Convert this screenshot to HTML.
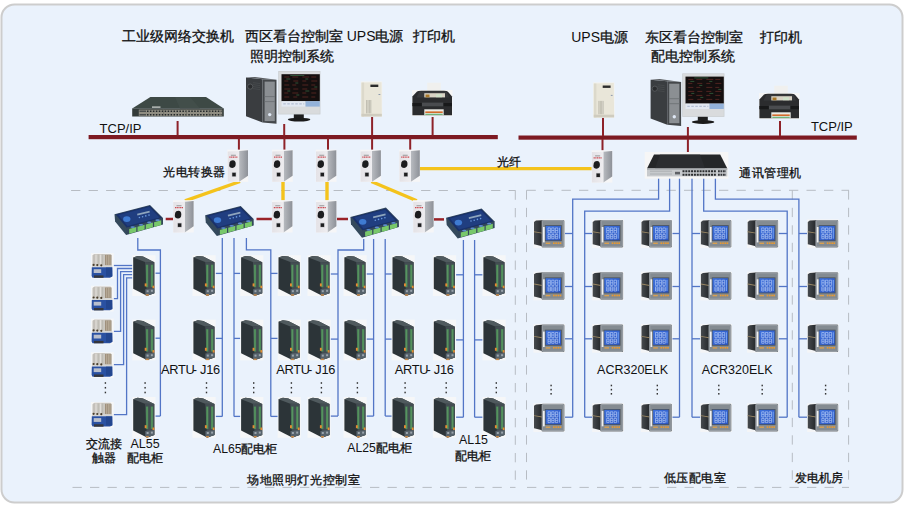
<!DOCTYPE html>
<html><head><meta charset="utf-8"><style>
html,body{margin:0;padding:0;background:#fff;}
body{width:905px;height:509px;position:relative;overflow:hidden;}
svg{position:absolute;left:0;top:0;}
.t{position:absolute;white-space:nowrap;font-family:"Liberation Sans",sans-serif;color:#111;line-height:1;}
.c{-webkit-text-stroke:0.3px #111;}
</style></head><body>
<svg width="905" height="509" viewBox="0 0 905 509">
<defs>
 <linearGradient id="gConvSide" x1="0" x2="1" y1="0" y2="0">
   <stop offset="0" stop-color="#b8bbc0"/><stop offset="0.5" stop-color="#a3a6ac"/><stop offset="1" stop-color="#8d9198"/>
 </linearGradient>
 <linearGradient id="gConvFront" x1="0" x2="1" y1="0" y2="0">
   <stop offset="0" stop-color="#e4e2e6"/><stop offset="1" stop-color="#eeedf0"/>
 </linearGradient>
 <linearGradient id="gScreen" x1="0" x2="1" y1="0" y2="1">
   <stop offset="0" stop-color="#3e72de"/><stop offset="1" stop-color="#2a52bd"/>
 </linearGradient>
 <linearGradient id="gHouse" x1="0" x2="1" y1="0" y2="0">
   <stop offset="0" stop-color="#464a4e"/><stop offset="1" stop-color="#25282b"/>
 </linearGradient>
 <g id="din">
   <rect x="0" y="0" width="23.2" height="40.8" fill="#f6f7f8"/>
   <polygon points="0.9,2.2 5.3,0.7 10.7,1.4 22,7.1 22,38 14.6,40.5 0.9,33.6" fill="#2c3438"/>
   <polygon points="0.9,2.2 5.3,0.7 10.7,1.4 22,7.1 12.7,6.8" fill="#505a5e"/>
   <polygon points="12.7,6.8 22,7.1 22,38 14.6,40.5" fill="#434d52"/>
   <rect x="13.6" y="9.5" width="2.3" height="22.5" fill="#4a8656"/><rect x="14.4" y="10" width="0.7" height="21.5" fill="#5f9a66"/>
   <rect x="18.5" y="9.5" width="2.3" height="22.5" fill="#4a8656"/><rect x="19.3" y="10" width="0.7" height="21.5" fill="#5f9a66"/>
   <rect x="12.4" y="28.2" width="1.9" height="3" fill="#e38c33"/>
   <rect x="20.2" y="30.5" width="1.8" height="2.6" fill="#e38c33"/>
   <polygon points="12.9,34 22,33.2 22,38 14.6,40.5 12.9,39.8" fill="#56626b"/>
   <rect x="14.3" y="35" width="2" height="2" fill="#9aa4ac"/><rect x="18.6" y="34.6" width="2" height="2" fill="#9aa4ac"/>
   <rect x="13.5" y="39" width="3" height="1.5" fill="#c98a4a"/>
 </g>
 <g id="meter">
   <rect x="0" y="0" width="31.6" height="28.8" fill="#f4f5f7"/>
   <polygon points="0.6,2.6 2.6,1.3 8.8,0.9 8.8,27 0.6,25" fill="url(#gHouse)"/>
   <polygon points="0.6,12 8.8,13.4 8.8,14.3 0.6,12.9" fill="#9a8764"/>
   <rect x="8.2" y="0.6" width="22.8" height="27.6" rx="1.2" fill="#6f767c"/>
   <rect x="8.9" y="1.3" width="21.4" height="26.2" rx="0.8" fill="#848b91" stroke="#b0b6bb" stroke-width="0.6"/>
   <rect x="11.4" y="5.8" width="17" height="16" fill="#4d545a"/>
   <rect x="12.2" y="6.6" width="15.4" height="14.4" fill="url(#gScreen)"/>
   <path d="M14.6 8.6h2.4v2.6h-2.4zM14.6 11.2v2.6h2.4v-2.6M18.3 8.6h2.4v2.6h-2.4zM18.3 11.2v2.6h2.4v-2.6M22 8.6h2.4v2.6h-2.4zM22 11.2v2.6h2.4v-2.6M14.6 15.2h2.4v2.2h-2.4zM14.6 17.4v2h2.4v-2M18.3 15.2h2.4v2.2h-2.4zM18.3 17.4v2h2.4v-2M22 15.2h2.4v2.2h-2.4zM22 17.4v2h2.4v-2" stroke="#cfe0ff" stroke-width="0.55" fill="none"/>
   <rect x="25.6" y="8.4" width="0.9" height="11" fill="#7fb0ff"/>
   <rect x="9.6" y="7.7" width="1.7" height="15.4" fill="#f0f0f0"/>
   <rect x="12.3" y="23.3" width="4.6" height="1.4" fill="#d9a050"/>
   <rect x="19.6" y="23.1" width="1.6" height="1.6" fill="#eb9a2e"/>
   <rect x="21.9" y="23.1" width="1.6" height="1.6" fill="#eb9a2e"/>
   <rect x="24.2" y="23.1" width="1.6" height="1.6" fill="#eb9a2e"/>
   <rect x="26.3" y="23.1" width="1.6" height="1.6" fill="#eb9a2e"/>
 </g>
 <g id="conv">
   <rect x="0" y="0" width="20.8" height="32.3" fill="#f6f6f7"/>
   <polygon points="11.7,1.5 20.6,0.7 20.6,26.1 11.7,32.2" fill="url(#gConvSide)"/>
   <polygon points="0.3,1.8 11.7,1.5 11.7,32.2 0.3,32.2" fill="url(#gConvFront)"/>
   <rect x="3.5" y="5.2" width="5" height="0.8" fill="#6a6a6a" opacity="0.8"/>
   <path d="M2 7.5h8" stroke="#cc4a52" stroke-width="1.3" stroke-dasharray="1.2 0.5"/>
   <path d="M2.2,12.6 Q2.8,10.8 5.4,10.6 Q8.4,10.8 8.3,14.5 Q8.2,18.2 5,18.4 Q1.9,18.3 1.8,15.6 Z" fill="#1c1c1e"/>
   <rect x="4.4" y="22.6" width="4.4" height="4.6" fill="#b9b9bd"/><rect x="4.9" y="23.2" width="3.4" height="3.5" fill="#1e1e20"/>
 </g>
 <g id="rtu">
   <polygon points="0.6,9.7 36.1,0.4 49.1,13.6 49.1,19.9 12.2,30.5 1.2,17" fill="#34495c"/>
   <polygon points="1.8,10 36,1.3 48,13.4 12.8,23.2" fill="#1a3169"/>
   <polygon points="4.5,10.4 35.4,2.6 45.5,13 13.6,21.6" fill="#203e80"/>
   <polygon points="12.8,23.2 48.2,13.6 48.6,19.6 12.5,29.8" fill="#33475a"/>
   <ellipse cx="12.9" cy="14.6" rx="3.7" ry="2.9" fill="#3f7bd2"/>
   <polygon points="23.2,9.3 35.6,6.2 35.9,8 23.5,11.1" fill="#8ea5bd"/>
   <circle cx="25.5" cy="13" r="0.8" fill="#6a9ae0"/><circle cx="28.7" cy="12.2" r="0.8" fill="#6a9ae0"/><circle cx="31.9" cy="11.4" r="0.8" fill="#6a9ae0"/><circle cx="35.1" cy="10.6" r="0.8" fill="#6a9ae0"/>
   <polygon points="15.3,24.6 22.4,22.6 22.4,27.3 15.3,29.3" fill="#78c86a"/>
   <polygon points="23.6,22.3 30.7,20.3 30.7,25 23.6,27" fill="#78c86a"/>
   <polygon points="31.9,20 39,18 39,22.7 31.9,24.7" fill="#78c86a"/>
   <polygon points="40.2,17.7 47.3,15.7 47.3,20.4 40.2,22.4" fill="#78c86a"/>
   <ellipse cx="18.8" cy="22.6" rx="2.2" ry="0.9" fill="#5b8bd0"/><ellipse cx="27.1" cy="20.3" rx="2.2" ry="0.9" fill="#5b8bd0"/><ellipse cx="35.4" cy="18" rx="2.2" ry="0.9" fill="#5b8bd0"/><ellipse cx="43.7" cy="15.7" rx="2.2" ry="0.9" fill="#5b8bd0"/>
 </g>
 <g id="cont">
   <rect x="0" y="0" width="22.7" height="25.8" fill="#f6f7f8"/>
   <polygon points="1.4,2.2 3.5,0.8 19.5,0.8 20.8,2.2 20.8,12.8 1.4,12.8" fill="#cbc8c2"/>
   <rect x="14" y="1.8" width="6.3" height="10.5" fill="#9f907c"/>
   <path d="M15.6 2v10M17.4 2v10M19 2v10" stroke="#c8bcaa" stroke-width="0.6"/>
   <path d="M5 1.5v10M9.5 1.5v10" stroke="#e2dfda" stroke-width="1"/>
   <path d="M3 1.5v10M7.3 1.5v10M11.6 1.5v10" stroke="#aeaaa2" stroke-width="0.5"/>
   <rect x="0.9" y="12.3" width="20.4" height="1.9" fill="#d6d6d4"/>
   <circle cx="2.6" cy="11.8" r="1.1" fill="#4a3e2c"/>
   <circle cx="6.3" cy="12" r="1.1" fill="#4a3e2c"/>
   <circle cx="10.3" cy="12.2" r="1.1" fill="#4a3e2c"/>
   <polygon points="0.8,14.2 21.4,14.2 21.6,23.2 19,24.6 1.5,24.6 0.6,22.8" fill="#2a51a2"/>
   <rect x="15" y="14.5" width="6" height="9" fill="#23468f"/>
   <rect x="2.7" y="16.1" width="7.5" height="3.8" fill="#b9bfcc"/>
   <rect x="3" y="22.3" width="9.5" height="2.4" fill="#34363c"/>
 </g>
</defs>
<rect x="1.5" y="4.5" width="901" height="498" rx="13" ry="13" fill="#eaf2fc" stroke="#cdcdcd" stroke-width="2"/><line x1="71.1" y1="190.5" x2="515.5" y2="190.5" stroke="#b7bcc3" stroke-width="1" stroke-dasharray="9.3 8.2"/><line x1="515.3" y1="190.5" x2="515.3" y2="481" stroke="#b7bcc3" stroke-width="1" stroke-dasharray="9.3 8.2"/><line x1="72.5" y1="487.4" x2="515.5" y2="487.4" stroke="#b7bcc3" stroke-width="1" stroke-dasharray="9.3 8.2"/><line x1="526.5" y1="190.3" x2="849" y2="190.3" stroke="#b7bcc3" stroke-width="1" stroke-dasharray="9.3 8.2"/><line x1="526.5" y1="190.3" x2="526.5" y2="481" stroke="#b7bcc3" stroke-width="1" stroke-dasharray="9.3 8.2"/><line x1="792.3" y1="190.3" x2="792.3" y2="481" stroke="#b7bcc3" stroke-width="1" stroke-dasharray="9.3 8.2"/><line x1="848.6" y1="190.3" x2="848.6" y2="481" stroke="#b7bcc3" stroke-width="1" stroke-dasharray="9.3 8.2"/><line x1="527" y1="487.4" x2="849" y2="487.4" stroke="#b7bcc3" stroke-width="1" stroke-dasharray="9.3 8.2"/><rect x="88.6" y="135" width="409.2" height="4.2" fill="#7d1a22"/><rect x="518.5" y="135.5" width="338.3" height="4.2" fill="#7d1a22"/><line x1="177.6" y1="121" x2="177.6" y2="135.5" stroke="#8e2229" stroke-width="2"/><line x1="284.2" y1="124" x2="284.2" y2="135.5" stroke="#8e2229" stroke-width="2"/><line x1="372.1" y1="117" x2="372.1" y2="135.5" stroke="#8e2229" stroke-width="2"/><line x1="432.6" y1="117" x2="432.6" y2="135.5" stroke="#8e2229" stroke-width="2"/><line x1="603" y1="117.7" x2="603" y2="136" stroke="#8e2229" stroke-width="2"/><line x1="687.9" y1="127" x2="687.9" y2="136" stroke="#8e2229" stroke-width="2"/><line x1="780" y1="121" x2="780" y2="136" stroke="#8e2229" stroke-width="2"/><line x1="238.9" y1="138.5" x2="238.9" y2="150" stroke="#8e2229" stroke-width="2"/><line x1="284.4" y1="138.5" x2="284.4" y2="150" stroke="#8e2229" stroke-width="2"/><line x1="328.0" y1="138.5" x2="328.0" y2="150" stroke="#8e2229" stroke-width="2"/><line x1="372.1" y1="138.5" x2="372.1" y2="150" stroke="#8e2229" stroke-width="2"/><line x1="410.2" y1="138.5" x2="410.2" y2="150" stroke="#8e2229" stroke-width="2"/><line x1="602.5" y1="139" x2="602.5" y2="150.5" stroke="#8e2229" stroke-width="2"/><line x1="687.9" y1="139" x2="687.9" y2="153.5" stroke="#8e2229" stroke-width="2"/><polyline points="240,181.5 185,200.8" fill="none" stroke="#f4c31c" stroke-width="3.4" stroke-linecap="butt"/><polyline points="283,182 283,200.5" fill="none" stroke="#f4c31c" stroke-width="3.4" stroke-linecap="butt"/><polyline points="327,182 327,200.5" fill="none" stroke="#f4c31c" stroke-width="3.4" stroke-linecap="butt"/><polyline points="371.4,181.5 416.8,200.8" fill="none" stroke="#f4c31c" stroke-width="3.4" stroke-linecap="butt"/><polyline points="419,168.6 592,168.6" fill="none" stroke="#f4c31c" stroke-width="3.4" stroke-linecap="butt"/><line x1="165.7" y1="219" x2="173.7" y2="219" stroke="#9a2328" stroke-width="2.5"/><line x1="256.5" y1="219" x2="272.5" y2="219" stroke="#9a2328" stroke-width="2.5"/><line x1="337" y1="219" x2="348" y2="219" stroke="#9a2328" stroke-width="2.5"/><line x1="434" y1="219.4" x2="444" y2="219.4" stroke="#9a2328" stroke-width="2.5"/><polyline points="137.8,238 137.8,250 160.4,250 160.4,416.1" fill="none" stroke="#5275c6" stroke-width="1.3"/><polyline points="154.5,273.2 160.4,273.2" fill="none" stroke="#5275c6" stroke-width="1.3"/><polyline points="154.5,338.2 160.4,338.2" fill="none" stroke="#5275c6" stroke-width="1.3"/><polyline points="154.5,416.1 160.4,416.1" fill="none" stroke="#5275c6" stroke-width="1.3"/><polyline points="222.3,238 222.3,416.4" fill="none" stroke="#5275c6" stroke-width="1.3"/><polyline points="234,238 234,416.4" fill="none" stroke="#5275c6" stroke-width="1.3"/><polyline points="246.4,238 246.4,249.8 270.8,249.8 270.8,416.4" fill="none" stroke="#5275c6" stroke-width="1.3"/><polyline points="215.4,273.4 222.3,273.4" fill="none" stroke="#5275c6" stroke-width="1.3"/><polyline points="234,273.4 240.5,273.4" fill="none" stroke="#5275c6" stroke-width="1.3"/><polyline points="270.8,273.4 277.9,273.4" fill="none" stroke="#5275c6" stroke-width="1.3"/><polyline points="215.4,338.4 222.3,338.4" fill="none" stroke="#5275c6" stroke-width="1.3"/><polyline points="234,338.4 240.5,338.4" fill="none" stroke="#5275c6" stroke-width="1.3"/><polyline points="270.8,338.4 277.9,338.4" fill="none" stroke="#5275c6" stroke-width="1.3"/><polyline points="215.4,416.4 222.3,416.4" fill="none" stroke="#5275c6" stroke-width="1.3"/><polyline points="234,416.4 240.5,416.4" fill="none" stroke="#5275c6" stroke-width="1.3"/><polyline points="270.8,416.4 277.9,416.4" fill="none" stroke="#5275c6" stroke-width="1.3"/><polyline points="363.7,239 363.7,250 338.0,250 338.0,416.1" fill="none" stroke="#5275c6" stroke-width="1.3"/><polyline points="373.6,239 373.6,416.1" fill="none" stroke="#5275c6" stroke-width="1.3"/><polyline points="385.2,239 385.2,416.1" fill="none" stroke="#5275c6" stroke-width="1.3"/><polyline points="330.4,274.0 338.0,274.0" fill="none" stroke="#5275c6" stroke-width="1.3"/><polyline points="366,274.0 373.6,274.0" fill="none" stroke="#5275c6" stroke-width="1.3"/><polyline points="385.2,274.0 391.9,274.0" fill="none" stroke="#5275c6" stroke-width="1.3"/><polyline points="330.4,339.1 338.0,339.1" fill="none" stroke="#5275c6" stroke-width="1.3"/><polyline points="366,339.1 373.6,339.1" fill="none" stroke="#5275c6" stroke-width="1.3"/><polyline points="385.2,339.1 391.9,339.1" fill="none" stroke="#5275c6" stroke-width="1.3"/><polyline points="330.4,416.1 338.0,416.1" fill="none" stroke="#5275c6" stroke-width="1.3"/><polyline points="366,416.1 373.6,416.1" fill="none" stroke="#5275c6" stroke-width="1.3"/><polyline points="385.2,416.1 391.9,416.1" fill="none" stroke="#5275c6" stroke-width="1.3"/><polyline points="463.4,240 463.4,417.2" fill="none" stroke="#5275c6" stroke-width="1.3"/><polyline points="474.6,240 474.6,417.2" fill="none" stroke="#5275c6" stroke-width="1.3"/><polyline points="455.6,274.8 463.4,274.8" fill="none" stroke="#5275c6" stroke-width="1.3"/><polyline points="474.6,274.8 482.8,274.8" fill="none" stroke="#5275c6" stroke-width="1.3"/><polyline points="455.6,339.9 463.4,339.9" fill="none" stroke="#5275c6" stroke-width="1.3"/><polyline points="474.6,339.9 482.8,339.9" fill="none" stroke="#5275c6" stroke-width="1.3"/><polyline points="455.6,417.2 463.4,417.2" fill="none" stroke="#5275c6" stroke-width="1.3"/><polyline points="474.6,417.2 482.8,417.2" fill="none" stroke="#5275c6" stroke-width="1.3"/><polyline points="113.5,265.5 132.5,265.5" fill="none" stroke="#5275c6" stroke-width="1.3"/><polyline points="113.5,298.6 117.5,298.6 117.5,268.5 132.5,268.5" fill="none" stroke="#5275c6" stroke-width="1.3"/><polyline points="113.5,331.4 120.6,331.4 120.6,271.6 132.5,271.6" fill="none" stroke="#5275c6" stroke-width="1.3"/><polyline points="113.5,364.6 123.6,364.6 123.6,274.7 132.5,274.7" fill="none" stroke="#5275c6" stroke-width="1.3"/><polyline points="113.5,414.7 126.6,414.7 126.6,277.8 132.5,277.8" fill="none" stroke="#5275c6" stroke-width="1.3"/><polyline points="658.6,178 658.6,199.1 572.7,199.1 572.7,417.2" fill="none" stroke="#5275c6" stroke-width="1.3"/><polyline points="669.6,178 669.6,211.1 584.7,211.1 584.7,417.2" fill="none" stroke="#5275c6" stroke-width="1.3"/><polyline points="679.5,178 679.5,417.2" fill="none" stroke="#5275c6" stroke-width="1.3"/><polyline points="692,178 692,417.2" fill="none" stroke="#5275c6" stroke-width="1.3"/><polyline points="703.7,178 703.7,211.1 787.2,211.1 787.2,417.2" fill="none" stroke="#5275c6" stroke-width="1.3"/><polyline points="715.4,178 715.4,199.1 798.9,199.1 798.9,417.2" fill="none" stroke="#5275c6" stroke-width="1.3"/><polyline points="564.5,233.5 572.7,233.5" fill="none" stroke="#5275c6" stroke-width="1.3"/><polyline points="584.7,233.5 592.5,233.5" fill="none" stroke="#5275c6" stroke-width="1.3"/><polyline points="672,233.5 679.5,233.5" fill="none" stroke="#5275c6" stroke-width="1.3"/><polyline points="692,233.5 700.4,233.5" fill="none" stroke="#5275c6" stroke-width="1.3"/><polyline points="778.3,233.5 787.2,233.5" fill="none" stroke="#5275c6" stroke-width="1.3"/><polyline points="798.9,233.5 807,233.5" fill="none" stroke="#5275c6" stroke-width="1.3"/><polyline points="564.5,286.5 572.7,286.5" fill="none" stroke="#5275c6" stroke-width="1.3"/><polyline points="584.7,286.5 592.5,286.5" fill="none" stroke="#5275c6" stroke-width="1.3"/><polyline points="672,286.5 679.5,286.5" fill="none" stroke="#5275c6" stroke-width="1.3"/><polyline points="692,286.5 700.4,286.5" fill="none" stroke="#5275c6" stroke-width="1.3"/><polyline points="778.3,286.5 787.2,286.5" fill="none" stroke="#5275c6" stroke-width="1.3"/><polyline points="798.9,286.5 807,286.5" fill="none" stroke="#5275c6" stroke-width="1.3"/><polyline points="564.5,338.8 572.7,338.8" fill="none" stroke="#5275c6" stroke-width="1.3"/><polyline points="584.7,338.8 592.5,338.8" fill="none" stroke="#5275c6" stroke-width="1.3"/><polyline points="672,338.8 679.5,338.8" fill="none" stroke="#5275c6" stroke-width="1.3"/><polyline points="692,338.8 700.4,338.8" fill="none" stroke="#5275c6" stroke-width="1.3"/><polyline points="778.3,338.8 787.2,338.8" fill="none" stroke="#5275c6" stroke-width="1.3"/><polyline points="798.9,338.8 807,338.8" fill="none" stroke="#5275c6" stroke-width="1.3"/><polyline points="564.5,417.2 572.7,417.2" fill="none" stroke="#5275c6" stroke-width="1.3"/><polyline points="584.7,417.2 592.5,417.2" fill="none" stroke="#5275c6" stroke-width="1.3"/><polyline points="672,417.2 679.5,417.2" fill="none" stroke="#5275c6" stroke-width="1.3"/><polyline points="692,417.2 700.4,417.2" fill="none" stroke="#5275c6" stroke-width="1.3"/><polyline points="778.3,417.2 787.2,417.2" fill="none" stroke="#5275c6" stroke-width="1.3"/><polyline points="798.9,417.2 807,417.2" fill="none" stroke="#5275c6" stroke-width="1.3"/><use href="#din" transform="translate(132.3,255.2) scale(1,1)"/><use href="#din" transform="translate(132.3,319.6) scale(1,1)"/><use href="#din" transform="translate(132.3,397.0) scale(1,1)"/><use href="#din" transform="translate(192.5,255.2) scale(1,1)"/><use href="#din" transform="translate(192.5,319.6) scale(1,1)"/><use href="#din" transform="translate(192.5,397.0) scale(1,1)"/><use href="#din" transform="translate(240.2,255.2) scale(1,1)"/><use href="#din" transform="translate(240.2,319.6) scale(1,1)"/><use href="#din" transform="translate(240.2,397.0) scale(1,1)"/><use href="#din" transform="translate(277.6,255.2) scale(1,1)"/><use href="#din" transform="translate(277.6,319.6) scale(1,1)"/><use href="#din" transform="translate(277.6,397.0) scale(1,1)"/><use href="#din" transform="translate(307.5,255.2) scale(1,1)"/><use href="#din" transform="translate(307.5,319.6) scale(1,1)"/><use href="#din" transform="translate(307.5,397.0) scale(1,1)"/><use href="#din" transform="translate(343.5,255.2) scale(1,1)"/><use href="#din" transform="translate(343.5,319.6) scale(1,1)"/><use href="#din" transform="translate(343.5,397.0) scale(1,1)"/><use href="#din" transform="translate(391.6,255.2) scale(1,1)"/><use href="#din" transform="translate(391.6,319.6) scale(1,1)"/><use href="#din" transform="translate(391.6,397.0) scale(1,1)"/><use href="#din" transform="translate(432.9,255.2) scale(1,1)"/><use href="#din" transform="translate(432.9,319.6) scale(1,1)"/><use href="#din" transform="translate(432.9,397.0) scale(1,1)"/><use href="#din" transform="translate(482.5,255.2) scale(1,1)"/><use href="#din" transform="translate(482.5,319.6) scale(1,1)"/><use href="#din" transform="translate(482.5,397.0) scale(1,1)"/><use href="#meter" transform="translate(533.4,219.3) scale(1,1)"/><use href="#meter" transform="translate(533.4,271.6) scale(1,1)"/><use href="#meter" transform="translate(533.4,323.9) scale(1,1)"/><use href="#meter" transform="translate(533.4,403.2) scale(1,1)"/><use href="#meter" transform="translate(592.1,219.3) scale(1,1)"/><use href="#meter" transform="translate(592.1,271.6) scale(1,1)"/><use href="#meter" transform="translate(592.1,323.9) scale(1,1)"/><use href="#meter" transform="translate(592.1,403.2) scale(1,1)"/><use href="#meter" transform="translate(640.9,219.3) scale(1,1)"/><use href="#meter" transform="translate(640.9,271.6) scale(1,1)"/><use href="#meter" transform="translate(640.9,323.9) scale(1,1)"/><use href="#meter" transform="translate(640.9,403.2) scale(1,1)"/><use href="#meter" transform="translate(700.3,219.3) scale(1,1)"/><use href="#meter" transform="translate(700.3,271.6) scale(1,1)"/><use href="#meter" transform="translate(700.3,323.9) scale(1,1)"/><use href="#meter" transform="translate(700.3,403.2) scale(1,1)"/><use href="#meter" transform="translate(747.1,219.3) scale(1,1)"/><use href="#meter" transform="translate(747.1,271.6) scale(1,1)"/><use href="#meter" transform="translate(747.1,323.9) scale(1,1)"/><use href="#meter" transform="translate(747.1,403.2) scale(1,1)"/><use href="#meter" transform="translate(807.2,219.3) scale(1,1)"/><use href="#meter" transform="translate(807.2,271.6) scale(1,1)"/><use href="#meter" transform="translate(807.2,323.9) scale(1,1)"/><use href="#meter" transform="translate(807.2,403.2) scale(1,1)"/><use href="#conv" transform="translate(227.4,149.6) scale(1,1)"/><use href="#conv" transform="translate(272.0,149.6) scale(1,1)"/><use href="#conv" transform="translate(315.7,149.6) scale(1,1)"/><use href="#conv" transform="translate(360.3,149.6) scale(1,1)"/><use href="#conv" transform="translate(399.2,149.6) scale(1,1)"/><use href="#conv" transform="translate(591.6,150.3) scale(1,1)"/><use href="#conv" transform="translate(173,200.2) scale(1,1)"/><use href="#conv" transform="translate(271.8,200.2) scale(1,1)"/><use href="#conv" transform="translate(315.8,200.2) scale(1,1)"/><use href="#conv" transform="translate(413.0,200.2) scale(1,1)"/><use href="#rtu" transform="translate(113.9,204.5) scale(1,1)"/><use href="#rtu" transform="translate(204.6,205.5) scale(1,1)"/><use href="#rtu" transform="translate(349.8,207.2) scale(1,1)"/><use href="#rtu" transform="translate(445.5,208.0) scale(1,1)"/><use href="#cont" transform="translate(91.0,253.1) scale(1,1)"/><use href="#cont" transform="translate(91.0,285.7) scale(1,1)"/><use href="#cont" transform="translate(91.0,318.6) scale(1,1)"/><use href="#cont" transform="translate(91.0,352.2) scale(1,1)"/><use href="#cont" transform="translate(91.0,402.0) scale(1,1)"/><rect x="104.7" y="382.2" width="1.4" height="1.6" fill="#333"/><rect x="104.7" y="386.95" width="1.4" height="1.6" fill="#333"/><rect x="104.7" y="391.7" width="1.4" height="1.6" fill="#333"/><rect x="144.4" y="382.2" width="1.4" height="1.6" fill="#333"/><rect x="144.4" y="386.95" width="1.4" height="1.6" fill="#333"/><rect x="144.4" y="391.7" width="1.4" height="1.6" fill="#333"/><rect x="205.8" y="382.2" width="1.4" height="1.6" fill="#333"/><rect x="205.8" y="386.95" width="1.4" height="1.6" fill="#333"/><rect x="205.8" y="391.7" width="1.4" height="1.6" fill="#333"/><rect x="253.0" y="382.2" width="1.4" height="1.6" fill="#333"/><rect x="253.0" y="386.95" width="1.4" height="1.6" fill="#333"/><rect x="253.0" y="391.7" width="1.4" height="1.6" fill="#333"/><rect x="290.7" y="382.2" width="1.4" height="1.6" fill="#333"/><rect x="290.7" y="386.95" width="1.4" height="1.6" fill="#333"/><rect x="290.7" y="391.7" width="1.4" height="1.6" fill="#333"/><rect x="320.7" y="382.2" width="1.4" height="1.6" fill="#333"/><rect x="320.7" y="386.95" width="1.4" height="1.6" fill="#333"/><rect x="320.7" y="391.7" width="1.4" height="1.6" fill="#333"/><rect x="356.7" y="382.2" width="1.4" height="1.6" fill="#333"/><rect x="356.7" y="386.95" width="1.4" height="1.6" fill="#333"/><rect x="356.7" y="391.7" width="1.4" height="1.6" fill="#333"/><rect x="404.40000000000003" y="382.2" width="1.4" height="1.6" fill="#333"/><rect x="404.40000000000003" y="386.95" width="1.4" height="1.6" fill="#333"/><rect x="404.40000000000003" y="391.7" width="1.4" height="1.6" fill="#333"/><rect x="445.5" y="382.2" width="1.4" height="1.6" fill="#333"/><rect x="445.5" y="386.95" width="1.4" height="1.6" fill="#333"/><rect x="445.5" y="391.7" width="1.4" height="1.6" fill="#333"/><rect x="495.6" y="382.2" width="1.4" height="1.6" fill="#333"/><rect x="495.6" y="386.95" width="1.4" height="1.6" fill="#333"/><rect x="495.6" y="391.7" width="1.4" height="1.6" fill="#333"/><rect x="550.4" y="384.7" width="1.4" height="1.6" fill="#333"/><rect x="550.4" y="388.84999999999997" width="1.4" height="1.6" fill="#333"/><rect x="550.4" y="393.0" width="1.4" height="1.6" fill="#333"/><rect x="610.6999999999999" y="384.7" width="1.4" height="1.6" fill="#333"/><rect x="610.6999999999999" y="388.84999999999997" width="1.4" height="1.6" fill="#333"/><rect x="610.6999999999999" y="393.0" width="1.4" height="1.6" fill="#333"/><rect x="656.5999999999999" y="384.7" width="1.4" height="1.6" fill="#333"/><rect x="656.5999999999999" y="388.84999999999997" width="1.4" height="1.6" fill="#333"/><rect x="656.5999999999999" y="393.0" width="1.4" height="1.6" fill="#333"/><rect x="718.0999999999999" y="384.7" width="1.4" height="1.6" fill="#333"/><rect x="718.0999999999999" y="388.84999999999997" width="1.4" height="1.6" fill="#333"/><rect x="718.0999999999999" y="393.0" width="1.4" height="1.6" fill="#333"/><rect x="761.5" y="384.7" width="1.4" height="1.6" fill="#333"/><rect x="761.5" y="388.84999999999997" width="1.4" height="1.6" fill="#333"/><rect x="761.5" y="393.0" width="1.4" height="1.6" fill="#333"/><rect x="824.9" y="384.7" width="1.4" height="1.6" fill="#333"/><rect x="824.9" y="388.84999999999997" width="1.4" height="1.6" fill="#333"/><rect x="824.9" y="393.0" width="1.4" height="1.6" fill="#333"/><polygon points="150.4,97 206,97 223.8,108.4 132.2,108.4" fill="#3d4945"/><polygon points="175,97 190,97 200,108.4 180,108.4" fill="#46524e" opacity="0.6"/><rect x="132.2" y="108.4" width="91.6" height="8.1" fill="#333b39"/><rect x="138.8" y="109.6" width="83.4" height="6.4" fill="#8f8d82"/><path d="M147 111.3H221.5M147 114.7H221.5" stroke="#23282a" stroke-width="1.5" stroke-dasharray="1.5 1.45"/><path d="M139.5 111.3H146M139.5 114.7H146" stroke="#4a4f4e" stroke-width="1.5"/><path d="M163.6 109.6V116M186.4 109.6V116M209 109.6V116" stroke="#6f6e66" stroke-width="0.8"/><rect x="152" y="106.5" width="8.5" height="1.2" fill="#d6dad7"/><g transform="translate(246,77.6)"><polygon points="0,0 16.6,1.6 16.6,45 0,38.7" fill="#3a3d40"/><polygon points="0,0 9,-0.6 30.5,2.2 16.6,1.6" fill="#5b5e61"/><polygon points="16.6,1.6 30.5,2.2 30.5,46.2 16.6,45" fill="#45484b"/><rect x="18.6" y="4" width="10.2" height="39.5" fill="#8b8f93"/><path d="M18.6 19h10.2M18.6 24h10.2" stroke="#6a6e72" stroke-width="0.8"/><circle cx="23.7" cy="37" r="1.7" fill="#dfe8f5"/><circle cx="4.2" cy="9" r="2.6" fill="#2a2c2e" stroke="#6a6d70" stroke-width="0.6"/><path d="M7 5l7 1M7 7l7 1M7 9l7 1M7 11l7 1" stroke="#4d5053" stroke-width="0.6"/><g transform="translate(32.3,-6.6)"><rect x="0" y="0" width="42.1" height="43.4" fill="#c8cacd"/><rect x="0.6" y="0.6" width="40.9" height="42.2" fill="#d9dbdd"/><rect x="3.2" y="3.2" width="38.3" height="27" fill="#140f0f"/><path d="M6 6h5M14 6h6M24 6h7M33 6h5M6 10h4M15 10h5M24 10h4M33 10h6M6 14h5M14 14h4M24 14h6M33 14h4M6 18h6M15 18h5M24 18h5M33 18h6M6 22h4M14 22h6M24 22h4M33 22h5M6 26h5M15 26h4M24 26h6M33 26h4" stroke="#6a2e28" stroke-width="0.7"/><path d="M8 8h4M17 12h3M27 8h3M36 16h3M9 20h3M27 20h4M18 24h3M12 4.5h14" stroke="#3a7048" stroke-width="0.7"/><rect x="3.2" y="30.2" width="24" height="5.4" fill="#e2e8f2"/><rect x="27.2" y="30.2" width="14.3" height="5.4" fill="#93b2da"/><path d="M5 32.9h21" stroke="#a8b4cc" stroke-width="1" stroke-dasharray="2.5 1.5"/><rect x="15.5" y="43.4" width="10" height="4" fill="#1e1e1e"/><ellipse cx="20.8" cy="48.6" rx="11.3" ry="1.9" fill="#1a1a1a"/></g></g><g transform="translate(650.6,79.7)"><polygon points="0,0 16.6,1.6 16.6,45 0,38.7" fill="#3a3d40"/><polygon points="0,0 9,-0.6 30.5,2.2 16.6,1.6" fill="#5b5e61"/><polygon points="16.6,1.6 30.5,2.2 30.5,46.2 16.6,45" fill="#45484b"/><rect x="18.6" y="4" width="10.2" height="39.5" fill="#8b8f93"/><path d="M18.6 19h10.2M18.6 24h10.2" stroke="#6a6e72" stroke-width="0.8"/><circle cx="23.7" cy="37" r="1.7" fill="#dfe8f5"/><circle cx="4.2" cy="9" r="2.6" fill="#2a2c2e" stroke="#6a6d70" stroke-width="0.6"/><path d="M7 5l7 1M7 7l7 1M7 9l7 1M7 11l7 1" stroke="#4d5053" stroke-width="0.6"/><g transform="translate(31.7,-6.3)"><rect x="0" y="0" width="42.1" height="43.4" fill="#c8cacd"/><rect x="0.6" y="0.6" width="40.9" height="42.2" fill="#d9dbdd"/><rect x="3.2" y="3.2" width="38.3" height="27" fill="#140f0f"/><path d="M6 6h5M14 6h6M24 6h7M33 6h5M6 10h4M15 10h5M24 10h4M33 10h6M6 14h5M14 14h4M24 14h6M33 14h4M6 18h6M15 18h5M24 18h5M33 18h6M6 22h4M14 22h6M24 22h4M33 22h5M6 26h5M15 26h4M24 26h6M33 26h4" stroke="#6a2e28" stroke-width="0.7"/><path d="M8 8h4M17 12h3M27 8h3M36 16h3M9 20h3M27 20h4M18 24h3M12 4.5h14" stroke="#3a7048" stroke-width="0.7"/><rect x="3.2" y="30.2" width="24" height="5.4" fill="#e2e8f2"/><rect x="27.2" y="30.2" width="14.3" height="5.4" fill="#93b2da"/><path d="M5 32.9h21" stroke="#a8b4cc" stroke-width="1" stroke-dasharray="2.5 1.5"/><rect x="15.5" y="43.4" width="10" height="4" fill="#1e1e1e"/><ellipse cx="20.8" cy="48.6" rx="11.3" ry="1.9" fill="#1a1a1a"/></g></g><g transform="translate(361,81.6)"><rect x="-0.2" y="-0.2" width="21.4" height="35.4" fill="#f3f3f0"/><polygon points="0.5,1 20.5,0.6 20.8,34.7 0.5,34.9" fill="#e9e6d9"/><rect x="0.5" y="1" width="2.6" height="33.9" fill="#dcd9cb"/><rect x="9.4" y="3" width="7.9" height="2.4" fill="#2b2b2b"/><rect x="17.5" y="12.4" width="1.8" height="0.9" fill="#8090a8"/><path d="M5.6 18.4v13.4M7 18.4v13.4M8.4 18.4v13.4M9.8 18.4v13.4" stroke="#b2b0a5" stroke-width="0.8"/><rect x="0.5" y="32.2" width="20.3" height="2.7" fill="#cfccbf"/></g><g transform="translate(593.3,82.5)"><rect x="-0.2" y="-0.2" width="21.4" height="35.4" fill="#f3f3f0"/><polygon points="0.5,1 20.5,0.6 20.8,34.7 0.5,34.9" fill="#e9e6d9"/><rect x="0.5" y="1" width="2.6" height="33.9" fill="#dcd9cb"/><rect x="9.4" y="3" width="7.9" height="2.4" fill="#2b2b2b"/><rect x="17.5" y="12.4" width="1.8" height="0.9" fill="#8090a8"/><path d="M5.6 18.4v13.4M7 18.4v13.4M8.4 18.4v13.4M9.8 18.4v13.4" stroke="#b2b0a5" stroke-width="0.8"/><rect x="0.5" y="32.2" width="20.3" height="2.7" fill="#cfccbf"/></g><g transform="translate(407,79)"><rect x="5" y="11" width="40.5" height="26" fill="#f6f6f6"/><rect x="20.2" y="3.7" width="13.6" height="10.5" fill="#f0f0ee"/><path d="M10,12.6 Q11,11.8 14,11.8 H37 Q40,11.8 41,12.8 L45,17.5 V36.3 H5.4 V17.5 Z" fill="#2b2c2e"/><polygon points="12.5,12.6 39.5,12.6 42,18.5 9.5,18.5" fill="#37383a"/><rect x="17.3" y="14.2" width="20.7" height="4.2" fill="#d8d2c4"/><rect x="18.5" y="15.5" width="4" height="2.8" fill="#a8782a"/><rect x="29" y="15.2" width="6" height="3" fill="#cfe0c8"/><rect x="5.4" y="24" width="39.6" height="3.2" fill="#18191a"/><rect x="14.9" y="23.6" width="21.4" height="3.8" fill="#4a4c4f"/><rect x="17.3" y="30.3" width="19.4" height="6" fill="#ecebe6"/><rect x="18.3" y="32.4" width="17.4" height="1.6" fill="#d36a2c"/><rect x="18.3" y="34.8" width="17.4" height="0.9" fill="#3c9a4c"/></g><g transform="translate(754,82)"><rect x="5" y="11" width="40.5" height="26" fill="#f6f6f6"/><rect x="20.2" y="3.7" width="13.6" height="10.5" fill="#f0f0ee"/><path d="M10,12.6 Q11,11.8 14,11.8 H37 Q40,11.8 41,12.8 L45,17.5 V36.3 H5.4 V17.5 Z" fill="#2b2c2e"/><polygon points="12.5,12.6 39.5,12.6 42,18.5 9.5,18.5" fill="#37383a"/><rect x="17.3" y="14.2" width="20.7" height="4.2" fill="#d8d2c4"/><rect x="18.5" y="15.5" width="4" height="2.8" fill="#a8782a"/><rect x="29" y="15.2" width="6" height="3" fill="#cfe0c8"/><rect x="5.4" y="24" width="39.6" height="3.2" fill="#18191a"/><rect x="14.9" y="23.6" width="21.4" height="3.8" fill="#4a4c4f"/><rect x="17.3" y="30.3" width="19.4" height="6" fill="#ecebe6"/><rect x="18.3" y="32.4" width="17.4" height="1.6" fill="#d36a2c"/><rect x="18.3" y="34.8" width="17.4" height="0.9" fill="#3c9a4c"/></g><rect x="644.7" y="152" width="83.7" height="26.7" fill="#f6f6f6"/><polygon points="654,154.4 720.2,154.4 727.3,168.6 647,168.6" fill="#252729"/><polygon points="660,154.4 700,154.4 705,168.6 655,168.6" fill="#2e3033" opacity="0.7"/><rect x="647" y="168.6" width="80.3" height="7.8" fill="#c7cacd"/><rect x="647" y="168.6" width="80.3" height="1" fill="#9ea2a6"/><path d="M682.5 171.3H716M682.5 174.7H716" stroke="#2a2c2e" stroke-width="1.9" stroke-dasharray="2 0.85"/><path d="M718 171.3H726M718 174.7H726" stroke="#34363a" stroke-width="1.9" stroke-dasharray="1.8 0.7"/><rect x="675" y="171.8" width="5" height="2.6" fill="#5e6166"/><path d="M650 171.2H672M650 174H672" stroke="#a4a8ac" stroke-width="0.8"/></svg>
<div class="t" style="left:122px;top:28.8px;font-size:14px"><span class="c">工业级网络交换机</span></div><div class="t" style="left:244.5px;top:28.8px;font-size:14px"><span class="c">西区看台控制室</span></div><div class="t" style="left:250.3px;top:49px;font-size:14px"><span class="c">照明控制系统</span></div><div class="t" style="left:346.7px;top:29.2px;font-size:14px">UPS<span class="c">电源</span></div><div class="t" style="left:413.2px;top:29.2px;font-size:14px"><span class="c">打印机</span></div><div class="t" style="left:571.2px;top:30px;font-size:14px">UPS<span class="c">电源</span></div><div class="t" style="left:645px;top:30px;font-size:14px"><span class="c">东区看台控制室</span></div><div class="t" style="left:651.2px;top:49px;font-size:14px"><span class="c">配电控制系统</span></div><div class="t" style="left:760.3px;top:30px;font-size:14px"><span class="c">打印机</span></div><div class="t" style="left:99.6px;top:122.3px;font-size:13px">TCP/IP</div><div class="t" style="left:810.9px;top:120.4px;font-size:13px">TCP/IP</div><div class="t" style="left:496.6px;top:155.6px;font-size:12px"><span class="c">光纤</span></div><div class="t" style="left:163.0px;top:166.4px;font-size:12px;letter-spacing:0.5px"><span class="c">光电转换器</span></div><div class="t" style="left:739.0px;top:166.6px;font-size:12px;letter-spacing:0.5px"><span class="c">通讯管理机</span></div><div class="t" style="left:161.0px;top:364.2px;font-size:12.8px;letter-spacing:-0.3px">ARTU<span style="margin-left:-1.6px">-</span> J16</div><div class="t" style="left:276.3px;top:364.3px;font-size:12.8px;letter-spacing:-0.3px">ARTU<span style="margin-left:-1.6px">-</span> J16</div><div class="t" style="left:394.8px;top:363.9px;font-size:12.8px;letter-spacing:-0.3px">ARTU<span style="margin-left:-1.6px">-</span> J16</div><div class="t" style="left:597.1px;top:363.5px;font-size:12.5px">ACR320ELK</div><div class="t" style="left:701.7px;top:364.1px;font-size:12.5px">ACR320ELK</div><div class="t" style="left:86px;top:438px;font-size:12px"><span class="c">交流接</span></div><div class="t" style="left:92px;top:452px;font-size:12px"><span class="c">触器</span></div><div class="t" style="left:130.4px;top:437.6px;font-size:12.5px">AL55</div><div class="t" style="left:127.4px;top:451.5px;font-size:12px"><span class="c">配电柜</span></div><div class="t" style="left:213px;top:443px;font-size:12.2px">AL65<span class="c">配电柜</span></div><div class="t" style="left:347.3px;top:442.2px;font-size:12.2px">AL25<span class="c">配电柜</span></div><div class="t" style="left:459.0px;top:434.0px;font-size:12.4px">AL15</div><div class="t" style="left:455.1px;top:449.6px;font-size:12px"><span class="c">配电柜</span></div><div class="t" style="left:247.0px;top:473.6px;font-size:12px;letter-spacing:0.6px"><span class="c">场地照明灯光控制室</span></div><div class="t" style="left:664px;top:471.6px;font-size:12px;letter-spacing:0.4px"><span class="c">低压配电室</span></div><div class="t" style="left:794.8px;top:471.6px;font-size:12px;letter-spacing:0.1px"><span class="c">发电机房</span></div>
</body></html>
